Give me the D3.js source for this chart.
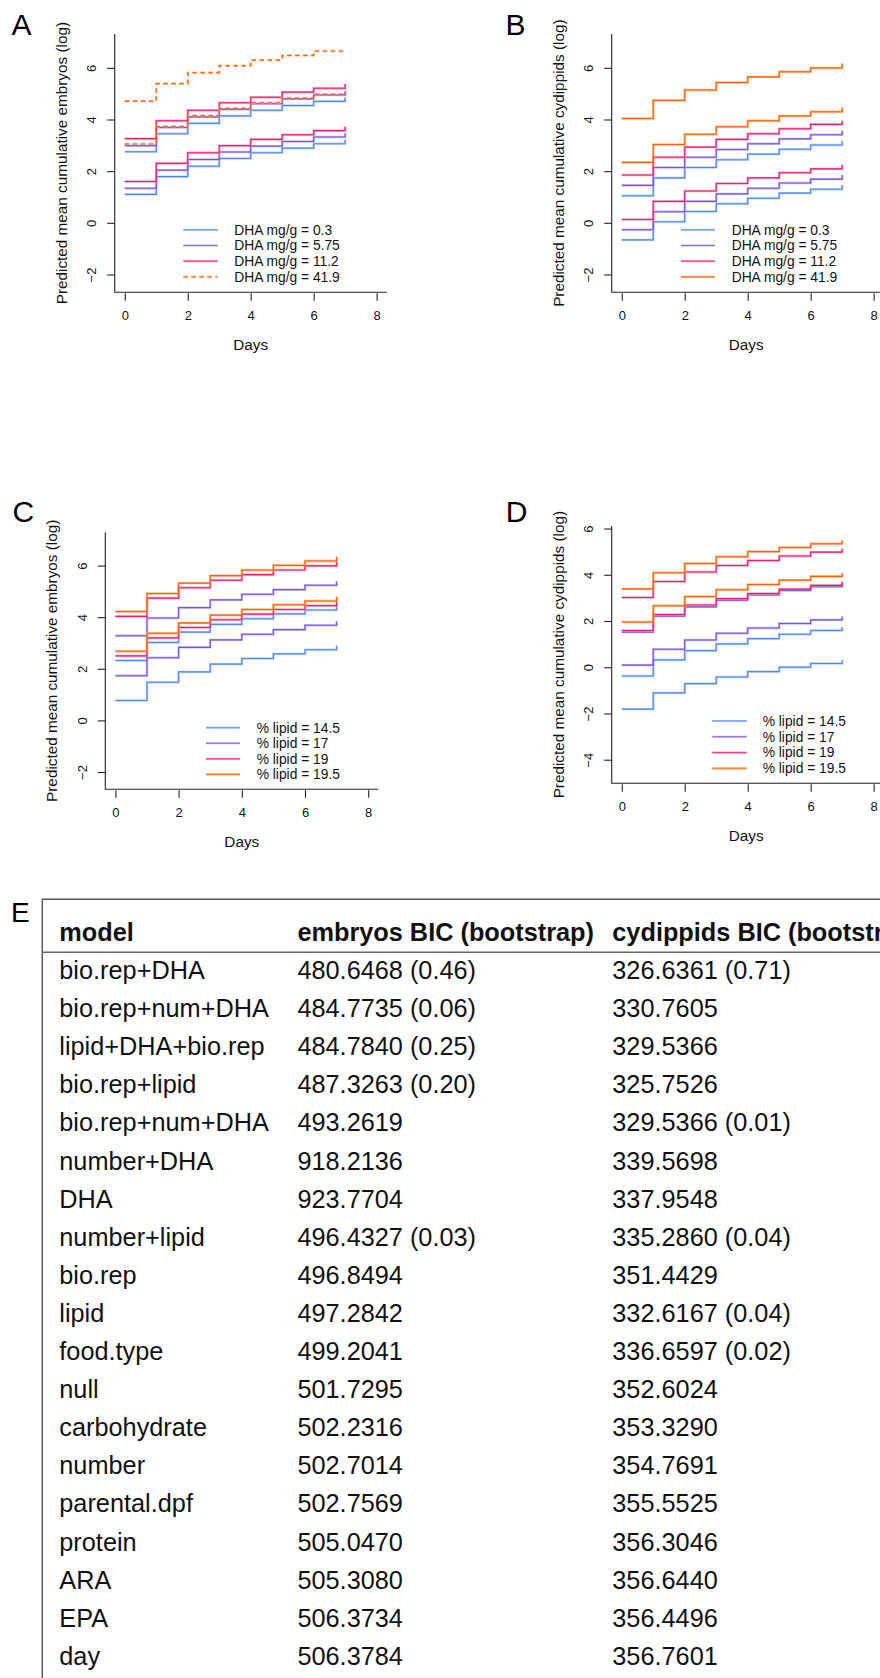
<!DOCTYPE html>
<html>
<head>
<meta charset="utf-8">
<script src="https://cdn.jsdelivr.net/npm/d3@7"></script>
<style>
  html, body { margin: 0; padding: 0; background: #fff; }
  svg { display: block; font-family: "Liberation Sans", Arial, Helvetica, sans-serif; }
</style>
</head>
<body>
<script>
// ---- data -------------------------------------------------------------
const days = [0, 1, 2, 3, 4, 5, 6, 7];
const xTicks = [0, 2, 4, 6, 8];
const dhaLevels = ["0.3", "5.75", "11.2", "41.9"];
const lipidLevels = ["14.5", "17", "19", "19.5"];

// predicted mean cumulative embryos (log) by DHA level, two bio reps each
const embryosDHA = [
  { level: "0.3",  values: [2.75, 3.45, 3.85, 4.14, 4.36, 4.54, 4.70, 4.86] },
  { level: "0.3",  values: [1.10, 1.79, 2.19, 2.49, 2.71, 2.89, 3.06, 3.22] },
  { level: "5.75", values: [2.99, 3.69, 4.10, 4.39, 4.61, 4.80, 4.95, 5.10] },
  { level: "5.75", values: [1.34, 2.04, 2.45, 2.74, 2.97, 3.15, 3.32, 3.47] },
  { level: "11.2", values: [3.26, 3.95, 4.36, 4.65, 4.86, 5.06, 5.21, 5.37] },
  { level: "11.2", values: [1.60, 2.30, 2.71, 2.99, 3.23, 3.41, 3.57, 3.72] },
  { level: "41.9", values: [4.71, 5.39, 5.81, 6.08, 6.30, 6.48, 6.65, 6.65] },
  { level: "41.9", values: [3.05, 3.73, 4.15, 4.43, 4.65, 4.83, 4.98, 4.98] }
];

// predicted mean cumulative cydippids (log) by DHA level
const cydippidsDHA = [
  { level: "0.3",  values: [1.05, 1.74, 2.14, 2.44, 2.66, 2.85, 3.01, 3.17] },
  { level: "0.3",  values: [-0.66, 0.04, 0.44, 0.74, 0.95, 1.15, 1.30, 1.46] },
  { level: "5.75", values: [1.45, 2.14, 2.54, 2.84, 3.06, 3.25, 3.41, 3.56] },
  { level: "5.75", values: [-0.27, 0.43, 0.83, 1.12, 1.34, 1.54, 1.69, 1.85] },
  { level: "11.2", values: [1.85, 2.54, 2.93, 3.23, 3.45, 3.64, 3.81, 3.95] },
  { level: "11.2", values: [0.13, 0.83, 1.23, 1.52, 1.74, 1.94, 2.09, 2.25] },
  { level: "41.9", values: [4.04, 4.74, 5.14, 5.43, 5.65, 5.85, 6.00, 6.17] },
  { level: "41.9", values: [2.34, 3.03, 3.43, 3.72, 3.95, 4.14, 4.30, 4.46] }
];

// predicted mean cumulative embryos (log) by % lipid
const embryosLipid = [
  { level: "14.5", values: [2.32, 3.02, 3.42, 3.72, 3.94, 4.13, 4.28, 4.44] },
  { level: "14.5", values: [0.77, 1.48, 1.88, 2.18, 2.40, 2.58, 2.74, 2.89] },
  { level: "17",   values: [3.28, 3.97, 4.37, 4.67, 4.89, 5.07, 5.24, 5.38] },
  { level: "17",   values: [1.73, 2.43, 2.83, 3.12, 3.34, 3.52, 3.69, 3.83] },
  { level: "19",   values: [4.03, 4.74, 5.14, 5.43, 5.65, 5.83, 5.99, 6.14] },
  { level: "19",   values: [2.50, 3.20, 3.60, 3.90, 4.12, 4.30, 4.45, 4.61] },
  { level: "19.5", values: [4.22, 4.92, 5.32, 5.61, 5.83, 6.01, 6.18, 6.34] },
  { level: "19.5", values: [2.68, 3.38, 3.78, 4.08, 4.30, 4.48, 4.63, 4.79] }
];

// predicted mean cumulative cydippids (log) by % lipid
const cydippidsLipid = [
  { level: "14.5", values: [-0.38, 0.32, 0.72, 1.01, 1.24, 1.43, 1.59, 1.73] },
  { level: "14.5", values: [-1.81, -1.11, -0.71, -0.42, -0.19, 0.00, 0.16, 0.30] },
  { level: "17",   values: [1.52, 2.21, 2.61, 2.90, 3.13, 3.32, 3.48, 3.62] },
  { level: "17",   values: [0.09, 0.78, 1.18, 1.47, 1.70, 1.89, 2.05, 2.19] },
  { level: "19",   values: [3.02, 3.71, 4.12, 4.40, 4.62, 4.81, 4.98, 5.13] },
  { level: "19",   values: [1.59, 2.28, 2.69, 2.97, 3.19, 3.38, 3.54, 3.70] },
  { level: "19.5", values: [3.39, 4.09, 4.49, 4.78, 5.00, 5.18, 5.34, 5.49] },
  { level: "19.5", values: [1.96, 2.66, 3.06, 3.35, 3.58, 3.77, 3.93, 4.07] }
];

// model comparison table
const models = ["bio.rep+DHA", "bio.rep+num+DHA", "lipid+DHA+bio.rep", "bio.rep+lipid",
  "bio.rep+num+DHA", "number+DHA", "DHA", "number+lipid", "bio.rep", "lipid", "food.type",
  "null", "carbohydrate", "number", "parental.dpf", "protein", "ARA", "EPA", "day"];
const embryosBIC = [480.6468, 484.7735, 484.7840, 487.3263, 493.2619, 918.2136, 923.7704,
  496.4327, 496.8494, 497.2842, 499.2041, 501.7295, 502.2316, 502.7014, 502.7569, 505.0470,
  505.3080, 506.3734, 506.3784];
const embryosBoot = [0.46, 0.06, 0.25, 0.20, null, null, null, 0.03, null, null, null, null,
  null, null, null, null, null, null, null];
const cydippidsBIC = [326.6361, 330.7605, 329.5366, 325.7526, 329.5366, 339.5698, 337.9548,
  335.2860, 351.4429, 332.6167, 336.6597, 352.6024, 353.3290, 354.7691, 355.5525, 356.3046,
  356.6440, 356.4496, 356.7601];
const cydippidsBoot = [0.71, null, null, null, 0.01, null, null, 0.04, null, 0.04, 0.02, null,
  null, null, null, null, null, null, null];
const tableHeaders = ["model", "embryos BIC (bootstrap)", "cydippids BIC (bootstrap)"];

// ---- styling ----------------------------------------------------------
const palette = [
  { dark: "#4f86f0", light: "#9dc0fb" },   // blue
  { dark: "#7552e0", light: "#b6a0f3" },   // purple
  { dark: "#ef1a6b", light: "#f687b0" },   // pink
  { dark: "#ff6000", light: "#ffa266" }    // orange
];
const axisColor = "#222";
const font = '"Liberation Sans", Arial, Helvetica, sans-serif';

const panels = [
  { letter: "A", letterPos: [11.5, 35], series: embryosDHA, levels: dhaLevels,
    legendPrefix: "DHA mg/g = ", dashed: ["41.9"],
    yTitle: "Predicted mean cumulative embryos (log)",
    yTicks: [-2, 0, 2, 4, 6], yDomain: [-2.69, 7.31],
    box: { left: 114.7, top: 34, right: 386.7, bottom: 292.3 },
    legend: { x1: 183.3, x2: 217.7, tx: 234.3, y0: 229.8, dy: 15.7 } },
  { letter: "B", letterPos: [505.5, 35], series: cydippidsDHA, levels: dhaLevels,
    legendPrefix: "DHA mg/g = ", dashed: [],
    yTitle: "Predicted mean cumulative cydippids (log)",
    yTicks: [-2, 0, 2, 4, 6], yDomain: [-2.69, 7.31],
    box: { left: 611.7, top: 34, right: 883.7, bottom: 292.3 },
    legend: { x1: 681, x2: 715, tx: 731.7, y0: 229.8, dy: 15.7 } },
  { letter: "C", letterPos: [12.5, 521.7], series: embryosLipid, levels: lipidLevels,
    legendPrefix: "% lipid = ", dashed: [],
    yTitle: "Predicted mean cumulative embryos (log)",
    yTicks: [-2, 0, 2, 4, 6], yDomain: [-2.67, 7.29],
    box: { left: 105.3, top: 532.3, right: 378.3, bottom: 789.3 },
    legend: { x1: 206, x2: 240, tx: 256.7, y0: 727.7, dy: 15.55 } },
  { letter: "D", letterPos: [505.8, 521.7], series: cydippidsLipid, levels: lipidLevels,
    legendPrefix: "% lipid = ", dashed: [],
    yTitle: "Predicted mean cumulative cydippids (log)",
    yTicks: [-4, -2, 0, 2, 4, 6], yDomain: [-5.02, 6.11],
    box: { left: 611.7, top: 526, right: 883.7, bottom: 783.3 },
    legend: { x1: 712.3, x2: 746.7, tx: 762.7, y0: 721, dy: 15.77 } }
];

const svg = d3.select("body").append("svg")
  .attr("width", 880).attr("height", 1678);

const minus = s => String(s).replace("-", "\u2212");

panels.forEach(p => {
  const b = p.box;
  const g = svg.append("g");
  // x range spans [0, 8] padded by 4% on each side
  const x = d3.scaleLinear().domain([-0.32, 8.32]).range([b.left, b.right]);
  const y = d3.scaleLinear().domain(p.yDomain).range([b.bottom, b.top]);

  // panel letter
  svg.append("text").attr("x", p.letterPos[0]).attr("y", p.letterPos[1])
    .attr("font-size", 30).attr("fill", "#000").text(p.letter);

  // L-shaped frame
  g.append("path")
    .attr("d", `M${b.left},${b.top}V${b.bottom}H${b.right}`)
    .attr("fill", "none").attr("stroke", axisColor).attr("stroke-width", 1.1);

  // bottom axis
  const xa = g.append("g").attr("transform", `translate(0,${b.bottom + 1})`)
    .call(d3.axisBottom(x).tickValues(xTicks).tickSize(7.5).tickPadding(9.5)
      .tickFormat(d => minus(d)));
  xa.select(".domain").remove();
  xa.selectAll("line").attr("stroke", axisColor).attr("stroke-width", 1.1);
  xa.selectAll("text").attr("font-size", 13).attr("font-family", font).attr("fill", "#111");

  // left axis with labels parallel to the axis
  const ya = g.append("g").attr("transform", `translate(${b.left},0)`)
    .call(d3.axisLeft(y).tickValues(p.yTicks).tickSize(7.5).tickFormat(d => minus(d)));
  ya.select(".domain").remove();
  ya.selectAll("line").attr("stroke", axisColor).attr("stroke-width", 1.1);
  ya.selectAll("text")
    .attr("x", null).attr("dy", "0.35em")
    .attr("transform", "translate(-23,0) rotate(-90)")
    .attr("text-anchor", "middle")
    .attr("font-size", 13).attr("font-family", font).attr("fill", "#111");

  // axis titles
  g.append("text")
    .attr("x", (b.left + b.right) / 2 - (b.right > 880 ? 1.5 : 0))
    .attr("y", b.bottom + 52.5).attr("dy", "0.35em")
    .attr("text-anchor", "middle").attr("font-size", 15.3).attr("fill", "#111")
    .text("Days");
  g.append("text")
    .attr("transform", `translate(${b.left - 53.5},${(b.top + b.bottom) / 2}) rotate(-90)`)
    .attr("dy", "0.35em").attr("text-anchor", "middle")
    .attr("font-size", 15.3).attr("fill", "#111")
    .text(p.yTitle);

  // step curves: horizontal to the next day, then vertical
  const line = d3.line()
    .x((d, i) => x(days[i]))
    .y(d => y(d))
    .curve(d3.curveStepAfter);

  const ordered = p.levels.flatMap(l => p.series.filter(s => s.level === l));
  ordered.forEach(s => {
    const c = palette[p.levels.indexOf(s.level)];
    const dash = p.dashed.includes(s.level) ? "4.5,3.5" : null;
    g.append("path").attr("d", line(s.values))
      .attr("fill", "none").attr("stroke", c.light).attr("stroke-width", 2.4)
      .attr("stroke-opacity", 0.75).attr("stroke-dasharray", dash);
    g.append("path").attr("d", line(s.values))
      .attr("fill", "none").attr("stroke", c.dark).attr("stroke-width", 1.1)
      .attr("stroke-dasharray", dash);
  });

  // legend
  const L = p.legend;
  p.levels.forEach((lev, i) => {
    const c = palette[i];
    const yy = L.y0 + i * L.dy;
    const dash = p.dashed.includes(lev) ? "4.5,3.5" : null;
    g.append("line").attr("x1", L.x1).attr("x2", L.x2).attr("y1", yy).attr("y2", yy)
      .attr("stroke", c.light).attr("stroke-width", 2.2).attr("stroke-opacity", 0.85)
      .attr("stroke-dasharray", dash);
    g.append("line").attr("x1", L.x1).attr("x2", L.x2).attr("y1", yy).attr("y2", yy)
      .attr("stroke", c.dark).attr("stroke-width", 0.9).attr("stroke-opacity", 0.8)
      .attr("stroke-dasharray", dash);
    g.append("text").attr("x", L.tx).attr("y", yy).attr("dy", "0.35em")
      .attr("font-size", 13.8).attr("fill", "#111")
      .text(p.legendPrefix + lev);
  });
});

// ---- model comparison table --------------------------------------------
const tb = { left: 42.3, top: 899.3, headLine: 952.3, headBase: 940.7,
             row0: 979, rowStep: 38.1, cols: [59.3, 297.4, 612.3] };

svg.append("text").attr("x", 11).attr("y", 921.7)
  .attr("font-size", 28).attr("fill", "#000").text("E");

const tg = svg.append("g");
tg.append("path")
  .attr("d", `M${tb.left},1690V${tb.top}H900`)
  .attr("fill", "none").attr("stroke", "#555").attr("stroke-width", 1.4);
tg.append("line").attr("x1", tb.left).attr("x2", 900)
  .attr("y1", tb.headLine).attr("y2", tb.headLine)
  .attr("stroke", "#666").attr("stroke-width", 1.4);

tableHeaders.forEach((h, j) => {
  tg.append("text").attr("x", tb.cols[j]).attr("y", tb.headBase)
    .attr("font-size", 25.3).attr("font-weight", "bold").attr("fill", "#111").text(h);
});

const fmt = (v, bs) => v.toFixed(4) + (bs === null ? "" : ` (${bs.toFixed(2)})`);
const rowY = d3.scaleLinear().domain([0, 1]).range([tb.row0, tb.row0 + tb.rowStep]);

models.forEach((m, i) => {
  const yy = rowY(i);
  const cells = [m, fmt(embryosBIC[i], embryosBoot[i]), fmt(cydippidsBIC[i], cydippidsBoot[i])];
  cells.forEach((t, j) => {
    tg.append("text").attr("x", tb.cols[j]).attr("y", yy)
      .attr("font-size", 25.3).attr("fill", "#111").text(t);
  });
});
</script>
</body>
</html>
